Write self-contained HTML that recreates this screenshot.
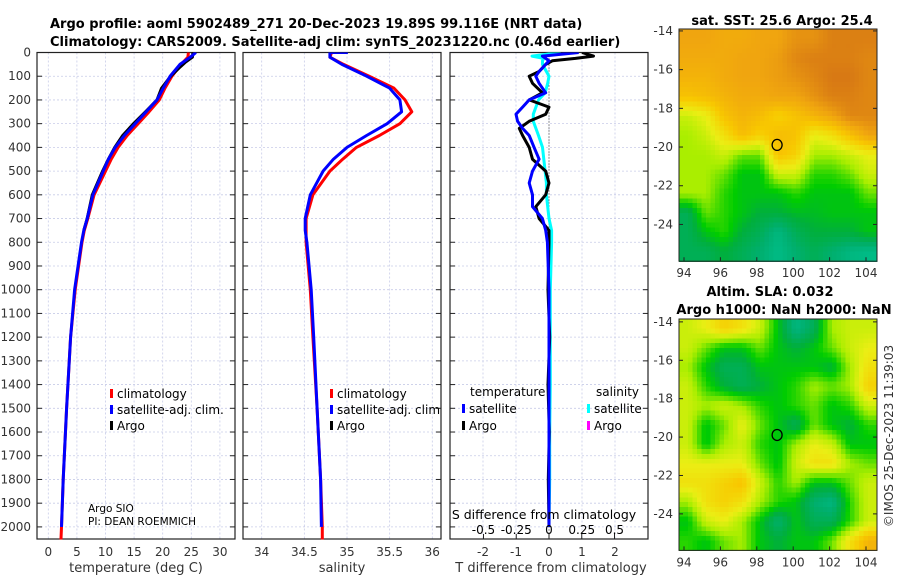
<!DOCTYPE html>
<html><head><meta charset="utf-8">
<style>
html,body{margin:0;padding:0;background:#fff;}
svg{display:block;font-family:"DejaVu Sans","Liberation Sans",sans-serif;}
.t{font-size:12px;fill:#333;}
.b{font-size:13px;font-weight:bold;fill:#000;}
</style></head>
<body>
<svg id="fig" width="900" height="580" viewBox="0 0 900 580">
<defs>
<clipPath id="c1"><rect x="37" y="52.5" width="198" height="487"/></clipPath>
<clipPath id="c2"><rect x="243" y="52.5" width="198" height="487"/></clipPath>
<clipPath id="c3"><rect x="450" y="52.5" width="198" height="487"/></clipPath>
</defs>
<text class="b" x="50" y="28">Argo profile: aoml 5902489_271 20-Dec-2023 19.89S 99.116E (NRT data)</text>
<text class="b" x="50" y="46">Climatology: CARS2009. Satellite-adj clim: synTS_20231220.nc (0.46d earlier)</text>
<g id="p1"></g>
<g id="p2"></g>
<g id="p3"></g>
<g id="m1"></g>
<g id="m2"></g>
<text class="b" x="782" y="25" text-anchor="middle">sat. SST: 25.6 Argo: 25.4</text>
<text class="b" x="770" y="296" text-anchor="middle">Altim. SLA: 0.032</text>
<text class="b" x="784" y="314" text-anchor="middle">Argo h1000: NaN h2000: NaN</text>
<text class="t" transform="translate(893,436) rotate(-90)" text-anchor="middle">©IMOS 25-Dec-2023 11:39:03</text>
</svg>
<script>
// ---- data ----
const depthTicks=[0,100,200,300,400,500,600,700,800,900,1000,1100,1200,1300,1400,1500,1600,1700,1800,1900,2000];
const tTicks=[0,5,10,15,20,25,30];
const sTicks=[34,34.5,35,35.5,36];
const sTickLabels=["34","34.5","35","35.5","36"];
const dTTicks=[-2,-1,0,1,2];
const dSTicks=[-0.5,-0.25,0,0.25,0.5];
const dSTickLabels=["-0.5","-0.25","0","0.25","0.5"];
const profDepth=[0,20,50,100,150,200,250,300,350,400,450,500,600,700,750,800,1000,1200,1500,1800,2000];
const tempClim=[24.5,24.4,23.2,21.6,20.4,19.4,17.6,15.7,13.8,12.2,11.0,10.0,8.0,6.9,6.3,5.9,4.7,3.9,3.2,2.6,2.3];
const tempSat=[25.8,24.8,23.0,21.3,20.1,19.0,17.1,15.2,13.3,11.7,10.5,9.6,7.8,6.8,6.2,5.8,4.6,3.9,3.2,2.6,2.3];
const argoTDepth=[0,20,40,60,100,150,200,250,300,350,400,450,500,600,700,750];
const tempArgo=[25.3,25.2,24.0,23.1,21.4,19.8,19.0,17.0,14.9,13.0,11.6,10.5,9.5,7.7,6.8,6.2];
const salClim=[34.82,34.8,34.96,35.26,35.55,35.68,35.76,35.62,35.38,35.11,34.95,34.8,34.6,34.52,34.52,34.52,34.57,34.6,34.65,34.69,34.71];
const salSat=[34.80,34.8,34.94,35.23,35.5,35.62,35.64,35.47,35.23,35.0,34.84,34.72,34.57,34.51,34.51,34.53,34.58,34.61,34.65,34.69,34.7];
const diffDepth=[0,15,25,35,50,80,100,130,170,200,230,260,290,320,350,400,450,500,550,600,650,700,750,800,1000,1200,1400,1600,1800,2000];
const dTArgo=[1.0,1.35,0.8,0.1,-0.1,-0.3,-0.6,-0.5,-0.2,-0.6,0,-0.1,-0.6,-0.9,-0.8,-0.6,-0.5,-0.1,0,-0.1,-0.4,-0.3,0,0,-0.03,0.02,-0.03,0.01,-0.02,0];
const dTSat=[0.9,-0.2,-0.1,0,-0.1,-0.3,-0.4,-0.3,-0.1,-0.6,-0.8,-1.0,-0.95,-0.8,-0.6,-0.45,-0.3,-0.5,-0.6,-0.5,-0.5,-0.2,-0.1,-0.05,0,0,0,0,0,0];
const dSSat=[0.09,-0.13,-0.04,-0.05,-0.05,-0.02,0,-0.01,-0.03,-0.08,-0.1,-0.12,-0.12,-0.1,-0.08,-0.05,-0.04,-0.03,-0.02,-0.02,-0.01,0,0.02,0.02,0.01,0.01,0.01,0.005,0.005,0];
const mapLonTicks=[94,96,98,100,102,104];
const mapLatTicks=[-14,-16,-18,-20,-22,-24];
const sstGrid=[
[0.8,0.8,0.78,0.78,0.8,0.8,0.85,0.85,0.9,0.9,0.9],
[0.78,0.78,0.78,0.8,0.8,0.82,0.88,0.9,0.9,0.9,0.88],
[0.75,0.75,0.78,0.8,0.8,0.82,0.85,0.88,0.92,0.92,0.88],
[0.7,0.72,0.75,0.78,0.78,0.8,0.8,0.85,0.9,0.9,0.88],
[0.5,0.55,0.7,0.75,0.72,0.65,0.7,0.75,0.8,0.88,0.88],
[0.45,0.5,0.6,0.72,0.65,0.72,0.7,0.55,0.6,0.7,0.8],
[0.45,0.45,0.5,0.4,0.4,0.7,0.65,0.45,0.45,0.5,0.55],
[0.45,0.45,0.4,0.3,0.3,0.5,0.5,0.35,0.35,0.4,0.5],
[0.45,0.45,0.35,0.3,0.3,0.3,0.35,0.3,0.3,0.3,0.4],
[0.2,0.4,0.35,0.3,0.25,0.25,0.28,0.28,0.3,0.3,0.3],
[0.2,0.3,0.35,0.25,0.2,0.1,0.2,0.25,0.25,0.25,0.3],
[0.2,0.2,0.25,0.2,0.15,0.08,0.15,0.2,0.15,0.1,0.08]];
const slaGrid=[
[0.5,0.55,0.65,0.6,0.5,0.3,0.1,0.2,0.45,0.5,0.5],
[0.5,0.4,0.3,0.3,0.4,0.3,0.25,0.3,0.4,0.5,0.55],
[0.45,0.3,0.2,0.2,0.3,0.3,0.3,0.3,0.25,0.45,0.6],
[0.5,0.35,0.25,0.2,0.25,0.3,0.35,0.45,0.4,0.45,0.65],
[0.5,0.45,0.5,0.45,0.35,0.3,0.35,0.4,0.3,0.35,0.5],
[0.5,0.3,0.4,0.55,0.4,0.3,0.2,0.4,0.3,0.25,0.35],
[0.5,0.3,0.45,0.5,0.35,0.3,0.45,0.55,0.5,0.3,0.3],
[0.55,0.55,0.55,0.55,0.4,0.3,0.5,0.6,0.6,0.45,0.4],
[0.6,0.6,0.65,0.7,0.5,0.35,0.45,0.3,0.3,0.4,0.5],
[0.45,0.6,0.65,0.6,0.45,0.35,0.3,0.15,0.1,0.35,0.5],
[0.3,0.5,0.55,0.45,0.3,0.15,0.3,0.2,0.2,0.35,0.5],
[0.35,0.3,0.4,0.45,0.3,0.25,0.3,0.3,0.4,0.6,0.75]];
const floatLon=99.116, floatLat=-19.89;

// ---- helpers ----
const NS="http://www.w3.org/2000/svg";
function mk(tag,attrs,parent){const e=document.createElementNS(NS,tag);for(const k in attrs)e.setAttribute(k,attrs[k]);parent.appendChild(e);return e;}
const yD=d=>52.5+d*0.2372;
const PT=52.5,PB=539;
function panel(g,x0,x1,xs,ticks,labels,clip,name){
  const gridG=mk('g',{},g);
  
  
  ticks.forEach(v=>{const x=xs(v);mk('line',{x1:x,x2:x,y1:PT,y2:PB,stroke:'#c8cce8','stroke-dasharray':'2,2','stroke-width':0.8},gridG);});
  depthTicks.forEach(d=>{const y=yD(d);mk('line',{x1:x0,x2:x1,y1:y,y2:y,stroke:'#c8cce8','stroke-dasharray':'2,2','stroke-width':0.8},gridG);
    mk('line',{x1:x0,x2:x0+5,y1:y,y2:y,stroke:'#222'},gridG);mk('line',{x1:x1-5,x2:x1,y1:y,y2:y,stroke:'#222'},gridG);});
  if(labels){ticks.forEach((v,i)=>{const t=mk('text',{x:xs(v),y:556,'text-anchor':'middle',class:'t'},g);t.textContent=labels[i];
    
    });}
  const r=mk('rect',{x:x0,y:PT,width:x1-x0,height:PB-PT,fill:'none',stroke:'#222','stroke-width':1.2},g);
  
  
}
function line(g,xs,vals,depths,color,w,name){
  const pts=vals.map((v,i)=>xs(v).toFixed(1)+','+yD(depths[i]).toFixed(1)).join(' ');
  const p=mk('polyline',{points:pts,fill:'none',stroke:color,'stroke-width':w,'stroke-linejoin':'round'},g);
  
  
}
function legendEntry(g,x,y,color,label){
  const e=mk('g',{},g);
  
  
  mk('rect',{x:x,y:y-9,width:3,height:9,fill:color},e);
  const t=mk('text',{x:x+7,y:y,class:'t'},e);t.textContent=label;t.style.fill='#000';
}
// ---- panel 1 ----
const p1=document.getElementById('p1');
const xT=v=>48.3+v*5.72;
panel(p1,37,235,xT,tTicks,tTicks.map(String),'c1','temperature-panel');
depthTicks.forEach(d=>{const t=mk('text',{x:31,y:yD(d)+4,'text-anchor':'end',class:'t'},p1);t.textContent=String(d);
  
  });
const c1=mk('g',{'clip-path':'url(#c1)'},p1);
line(c1,xT,tempClim.concat([2.2]),profDepth.concat([2060]),'#f00',3,'temperature-climatology-line');
line(c1,xT,tempArgo,argoTDepth,'#000',3,'temperature-argo-line');
line(c1,xT,tempSat,profDepth,'#00f',3,'temperature-satellite-line');
legendEntry(p1,110,398,'#f00','climatology');
legendEntry(p1,110,414,'#00f','satellite-adj. clim.');
legendEntry(p1,110,430,'#000','Argo');
let tx=mk('text',{x:88,y:512,style:'font-size:10.5px'},p1);tx.textContent='Argo SIO';


tx=mk('text',{x:88,y:525,style:'font-size:10.5px'},p1);tx.textContent='PI: DEAN ROEMMICH';


tx=mk('text',{x:136,y:572,'text-anchor':'middle',class:'t',style:'font-size:13px'},p1);tx.textContent='temperature (deg C)';


// ---- panel 2 ----
const p2=document.getElementById('p2');
const xS=v=>261.7+(v-34)*85.3;
panel(p2,243,441,xS,sTicks,sTickLabels,'c2','salinity-panel');
const c2=mk('g',{'clip-path':'url(#c2)'},p2);
line(c2,xS,salClim.concat([34.71]),profDepth.concat([2060]),'#f00',3,'salinity-climatology-line');
line(c2,xS,[35.01].concat(salSat),[0].concat(profDepth),'#00f',3,'salinity-satellite-line');
const lg2=mk('g',{'clip-path':'url(#c2)'},p2);
legendEntry(lg2,330,398,'#f00','climatology');
legendEntry(lg2,330,414,'#00f','satellite-adj. clim.');
legendEntry(lg2,330,430,'#000','Argo');
tx=mk('text',{x:342,y:572,'text-anchor':'middle',class:'t',style:'font-size:13px'},p2);tx.textContent='salinity';


// ---- panel 3 ----
const p3=document.getElementById('p3');
const xDT=v=>549+v*33;
const xDS=v=>549+v*131;
panel(p3,450,648,xDT,dTTicks,dTTicks.map(String),'c3','difference-panel');
mk('line',{x1:549,x2:549,y1:PT,y2:PB,stroke:'#333','stroke-dasharray':'1,2'},p3);
const c3=mk('g',{'clip-path':'url(#c3)'},p3);
line(c3,xDS,dSSat,diffDepth,'#0ff',3,'salinity-diff-satellite-line');
line(c3,xDT,dTArgo,diffDepth,'#000',3,'temperature-diff-argo-line');
line(c3,xDT,dTSat,diffDepth,'#00f',3,'temperature-diff-satellite-line');
tx=mk('text',{x:470,y:396,class:'t',style:'fill:#000'},p3);tx.textContent='temperature';


tx=mk('text',{x:596,y:396,class:'t',style:'fill:#000'},p3);tx.textContent='salinity';


legendEntry(p3,462,413,'#00f','satellite');
legendEntry(p3,462,430,'#000','Argo');
legendEntry(p3,587,413,'#0ff','satellite');
legendEntry(p3,587,430,'#f0f','Argo');
tx=mk('text',{x:544,y:519,'text-anchor':'middle',class:'t',style:'fill:#000;font-size:12.5px'},p3);tx.textContent='S difference from climatology';


dSTicks.forEach((v,i)=>{const t=mk('text',{x:xDS(v),y:534,'text-anchor':'middle',class:'t',style:'fill:#000'},p3);t.textContent=dSTickLabels[i];
  
  
  mk('line',{x1:xDS(v),x2:xDS(v),y1:PB,y2:PB-5,stroke:'#222'},p3);});
tx=mk('text',{x:551,y:572,'text-anchor':'middle',class:'t',style:'font-size:13px'},p3);tx.textContent='T difference from climatology';


// ---- maps ----
const stops=[[0,[0,200,160]],[0.15,[0,175,110]],[0.25,[0,175,60]],[0.32,[0,205,0]],[0.45,[170,238,0]],[0.55,[235,238,20]],[0.68,[248,200,0]],[0.8,[240,165,15]],[0.92,[215,120,20]],[1,[200,100,20]]];
function cmap(v){for(let i=1;i<stops.length;i++){if(v<=stops[i][0]){const a=stops[i-1],b=stops[i],f=(v-a[0])/(b[0]-a[0]);
  return 'rgb('+a[1].map((c,k)=>Math.round(c+(b[1][k]-c)*f)).join(',')+')';}}return 'rgb(200,100,20)';}
function sample(grid,fy,fx){
  const R=grid.length,C=grid[0].length;
  const y=Math.min(Math.max(fy-0.5,0),R-1), x=Math.min(Math.max(fx-0.5,0),C-1);
  const y0=Math.floor(y),x0=Math.floor(x),y1=Math.min(y0+1,R-1),x1=Math.min(x0+1,C-1);
  const dy=y-y0,dx=x-x0;
  return grid[y0][x0]*(1-dy)*(1-dx)+grid[y0][x1]*(1-dy)*dx+grid[y1][x0]*dy*(1-dx)+grid[y1][x1]*dy*dx;
}
function drawMap(g,grid,x0,x1,yTop,latTopVal,pxPerLat,name){
  const lonX=l=>684+(l-94)*18.2;
  const latY=l=>yTop+(latTopVal-l)*pxPerLat;
  const yBot=latY(-25.9);
  const S=4;
  const R=grid.length*S,C=grid[0].length*S;
  const cw=(x1-x0)/C, ch=(yBot-yTop)/R;
  const cells=mk('g',{'shape-rendering':'crispEdges'},g);
  
  
  for(let r=0;r<R;r++)for(let c=0;c<C;c++){
    const v=sample(grid,(r+0.5)/S,(c+0.5)/S);
    mk('rect',{x:(x0+c*cw).toFixed(2),y:(yTop+r*ch).toFixed(2),width:(cw+0.6).toFixed(2),height:(ch+0.6).toFixed(2),fill:cmap(v)},cells);
  }
  mapLatTicks.forEach(l=>{const y=latY(l);mk('line',{x1:x0,x2:x0+4,y1:y,y2:y,stroke:'#222'},g);mk('line',{x1:x1-4,x2:x1,y1:y,y2:y,stroke:'#222'},g);
    const t=mk('text',{x:x0-6,y:y+4,'text-anchor':'end',class:'t'},g);t.textContent=String(l);
    
    });
  mapLonTicks.forEach(l=>{const x=lonX(l);mk('line',{x1:x,x2:x,y1:yBot,y2:yBot-4,stroke:'#222'},g);
    const t=mk('text',{x:x,y:yBot+16,'text-anchor':'middle',class:'t'},g);t.textContent=String(l);
    
    });
  const fr=mk('rect',{x:x0,y:yTop,width:x1-x0,height:yBot-yTop,fill:'none',stroke:'#222','stroke-width':1},g);
  
  
  const m=mk('ellipse',{cx:lonX(floatLon),cy:latY(floatLat),rx:5,ry:5.5,fill:'none',stroke:'#000','stroke-width':1.3},g);
  
  
}
drawMap(document.getElementById('m1'),sstGrid,679,877,29,-13.9,19.35,'sst-map');
drawMap(document.getElementById('m2'),slaGrid,679,877,319,-13.85,19.2,'sla-map');
</script>
</body></html>
